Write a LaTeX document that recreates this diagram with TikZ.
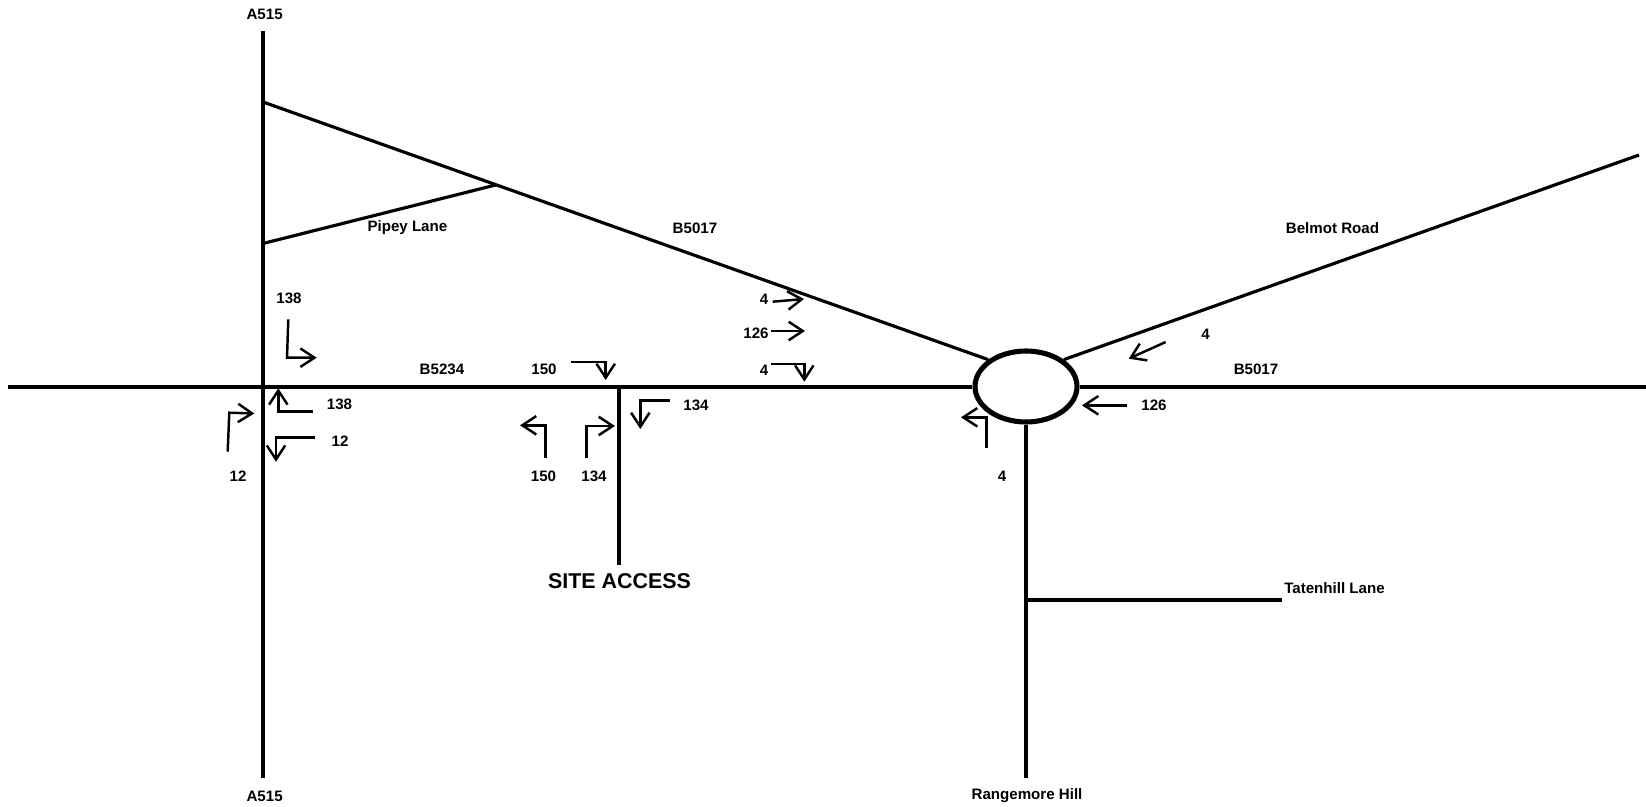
\documentclass[tikz,border=0pt]{standalone}
\usepackage{fontspec}
\setmainfont{Liberation Sans}
\usetikzlibrary{arrows.meta, bending, shapes.geometric}

\begin{document}
\begin{tikzpicture}[
        x=0.02cm, y=-0.02cm,
        road/.style={line width=2.5pt},
        lane/.style={line width=1.8pt},
        turn/.style={-{Straight Barb[length=8pt, width=10.5pt, line width=1.4pt, flex=0]}, line width=1.4pt},
        lbl/.style={font=\fontsize{8.6}{10}\selectfont\bfseries, inner sep=0pt},
        rbt/.style={draw, ellipse, fill=white, line width=2.9pt, inner sep=0pt,
                    minimum width=2.04cm, minimum height=1.42cm}
      ]
        \useasboundingbox (0,0) rectangle (1646,807);
        \coordinate (a515n) at (263,31);
        \coordinate (a515s) at (263,778);
        \coordinate (b5234w) at (8,387);
        \coordinate (b5017e) at (1646,387);
        \coordinate (siteN) at (619,387);
        \coordinate (siteS) at (619,565);
        \coordinate (rangeS) at (1026,778);
        \coordinate (tatenW) at (1026,600);
        \coordinate (tatenE) at (1282,600);
        \coordinate (b5017w) at (263,102);
        \coordinate (pipeyW) at (263,243.5);
        \coordinate (pipeyE) at (495.6,185);
        \coordinate (belmotE) at (1639,155);
        \node[rbt] (rbt) at (1026,386.5) {};
        % roads
        \draw[road] (a515n)--(a515s);
        \draw[road] (b5234w)--(b5234w -| rbt.west);
        \draw[road] (b5017e -| rbt.east)--(b5017e);
        \draw[road] (siteN)--(siteS);
        \draw[road] (rbt.south)--(rangeS);
        \draw[road] (tatenW)--(tatenE);
        \draw[lane] (b5017w)--(rbt.north west);
        \draw[lane] (pipeyW)--(pipeyE);
        \draw[lane] (rbt.north east)--(belmotE);
        % turning movements
        \draw[turn] (288.3,319.3)--(287,357.7)--(316.7,357.7);
        \draw[turn] (312.7,411.3)--(278.3,411.3)--(278.3,388.3);
        \draw[turn] (314.7,437.3)--(276,437.3)--(276,461.7);
        \draw[turn] (227.7,451.7)--(229.3,412.7)--(254.3,413.5);
        \draw[turn] (772.7,301.7)--(804,299);
        \draw[turn] (771.3,331)--(805,331);
        \draw[turn] (771,364)--(804.3,364)--(804.3,381.7);
        \draw[turn] (571,362)--(605.7,362)--(605.7,380);
        \draw[turn] (670,400.7)--(640.3,400.7)--(640.3,429);
        \draw[turn] (586.3,458.3)--(586.3,426)--(615,426);
        \draw[turn] (545.3,457.7)--(545.3,425.3)--(520,425.3);
        \draw[turn] (1165.7,342)--(1128.7,358.7);
        \draw[turn] (1126.7,405.3)--(1082,405.3);
        \draw[turn] (986.7,448)--(986.7,417.3)--(961,417.3);
        % labels
        \node[lbl] (lA) at (264.6,14) {A515};
        \node[lbl] (lB) at (264.6,796) {A515};
        \node[lbl] (lRange) at (1027,796) {Rangemore Hill};
        \node[lbl] (lTaten) at (1334.5,588) {Tatenhill Lane};
        \node[lbl] (lBelmot) at (1332.5,228) {Belmot Road};
        \node[lbl] (lB5017a) at (695,228) {B5017};
        \node[lbl] (lPipey) at (407.4,228) {Pipey Lane};
        \node[lbl] (lB5234) at (442,369.6) {B5234};
        \node[lbl] (lB5017b) at (1256,369.6) {B5017};
        \node[lbl] (n1) at (544,369.6) {150};
        \node[lbl] (n2) at (764,370) {4};
        \node[lbl] (n3) at (756,333) {126};
        \node[lbl] (n4) at (764,299) {4};
        \node[lbl] (n5) at (289,298.5) {138};
        \node[lbl] (n6) at (339.5,404.5) {138};
        \node[lbl] (n7) at (340,441) {12};
        \node[lbl] (n8) at (238,476) {12};
        \node[lbl] (n9) at (543.5,476) {150};
        \node[lbl] (n10) at (594,476) {134};
        \node[lbl] (n11) at (696,405) {134};
        \node[lbl] (n12) at (1002,476) {4};
        \node[lbl] (n13) at (1154,405) {126};
        \node[lbl] (n14) at (1205.5,334) {4};
        \node[lbl, font=\fontsize{12.2}{14}\selectfont\bfseries] (lSite) at (619.5,581) {SITE ACCESS};
      \end{tikzpicture}
\end{document}
